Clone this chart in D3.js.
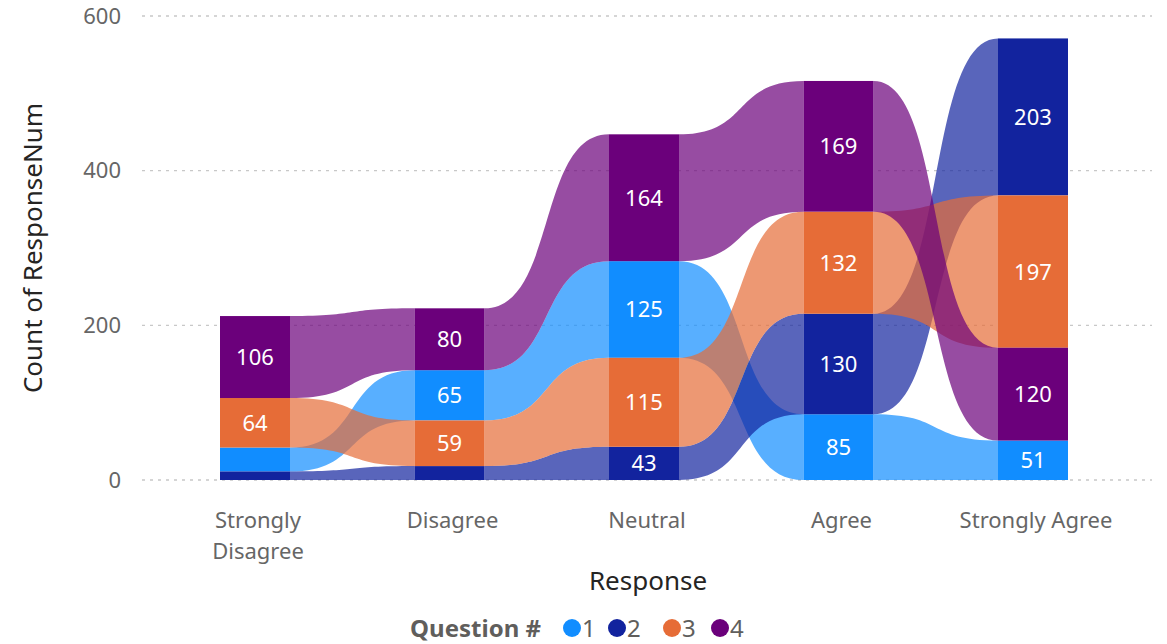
<!DOCTYPE html>
<html><head><meta charset="utf-8">
<script src="https://cdn.jsdelivr.net/npm/d3@7"></script>
<style>
html,body{margin:0;padding:0;background:#fff;}
svg{display:block;font-family:"Noto Sans","Open Sans",sans-serif;}
</style></head>
<body><svg id="c" width="1167" height="644"></svg>
<script>
const categories = ["Strongly Disagree","Disagree","Neutral","Agree","Strongly Agree"];
const seriesNames = ["1","2","3","4"];
const q1 = [31, 65, 125, 85, 51];
const q2 = [11, 18, 43, 130, 203];
const q3 = [64, 59, 115, 132, 197];
const q4 = [106, 80, 164, 169, 120];
const yTicks = [0, 200, 400, 600];
const colors = ["#118DFF","#12239E","#E66C37","#6B007B"];

const seriesValues = [q1,q2,q3,q4];
const svg = d3.select("#c");
const x = d3.scalePoint().domain(categories).range([255, 1033]);
const y = d3.scaleLinear().domain([0, 600]).range([480, 16]);
const barW = 70;

// gridlines
const grid = svg.append("g");
yTicks.forEach(t => {
  grid.append("line").attr("x1",142).attr("x2",1152).attr("y1",y(t)).attr("y2",y(t))
    .attr("stroke","#c8c8c8").attr("stroke-width",1.3).attr("stroke-dasharray","3,5");
});
// y axis labels
const yAxis = d3.axisLeft(y).tickValues(yTicks).tickSize(0).tickPadding(0);
const yg = svg.append("g").attr("transform","translate(121,0)").call(yAxis);
yg.select(".domain").remove();
yg.selectAll("text").attr("font-size",22).attr("fill","#666666").attr("font-family","'Noto Sans',sans-serif");

svg.append("text").attr("transform","translate(42,248) rotate(-90)").attr("text-anchor","middle")
  .attr("font-size",26).attr("fill","#252423").text("Count of ResponseNum");

// compute stacks: at each category, sort ascending by value
const stacks = categories.map((c, ci) => {
  const items = seriesValues.map((v, si) => ({si, v: v[ci]})).sort((a,b)=>a.v-b.v);
  let acc = 0;
  const res = {};
  items.forEach(it => { res[it.si] = {y0: acc, y1: acc + it.v, v: it.v}; acc += it.v; });
  return res;
});

// ribbons
const k = 0.58;
const rib = svg.append("g");
seriesValues.forEach((vals, si) => {
  for (let ci = 0; ci < categories.length - 1; ci++) {
    const a = stacks[ci][si], b = stacks[ci+1][si];
    const x0 = x(categories[ci]) + barW/2, x1 = x(categories[ci+1]) - barW/2;
    const dx = x1 - x0;
    const at = y(a.y1), ab = y(a.y0), bt = y(b.y1), bb = y(b.y0);
    const p = d3.path();
    p.moveTo(x0, at);
    p.bezierCurveTo(x0 + k*dx, at, x1 - k*dx, bt, x1, bt);
    p.lineTo(x1, bb);
    p.bezierCurveTo(x1 - k*dx, bb, x0 + k*dx, ab, x0, ab);
    p.closePath();
    rib.append("path").attr("d", p.toString()).attr("fill", colors[si]).attr("fill-opacity", 0.7);
  }
});

// bars
const bars = svg.append("g");
const labels = svg.append("g");
categories.forEach((c, ci) => {
  seriesValues.forEach((vals, si) => {
    const s = stacks[ci][si];
    const h = y(s.y0) - y(s.y1);
    bars.append("rect").attr("x", x(c) - barW/2).attr("width", barW)
      .attr("y", y(s.y1)).attr("height", h).attr("fill", colors[si]);
    if (h >= 28) {
      labels.append("text").attr("x", x(c)).attr("y", (y(s.y0)+y(s.y1))/2).attr("dy","0.36em")
        .attr("text-anchor","middle").attr("font-size",22).attr("fill","#ffffff").text(s.v);
    }
  });
});

// x axis labels
const xl = svg.append("g");
categories.forEach(c => {
  const lines = c === "Strongly Disagree" ? ["Strongly","Disagree"] : [c];
  lines.forEach((ln, i) => {
    xl.append("text").attr("x", x(c) + 3).attr("y", 528 + i*31).attr("text-anchor","middle")
      .attr("font-size",22).attr("fill","#666666").text(ln);
  });
});
svg.append("text").attr("x", 648).attr("y", 590).attr("text-anchor","middle")
  .attr("font-size",26).attr("fill","#252423").text("Response");

// legend
const lg = svg.append("g");
lg.append("text").attr("x", 541).attr("y", 637).attr("text-anchor","end")
  .attr("font-size",24).attr("font-weight","bold").attr("fill","#605E5C").text("Question #");
const lx = [572, 617, 672, 720];
seriesNames.forEach((n, i) => {
  lg.append("circle").attr("cx", lx[i]).attr("cy", 628).attr("r", 9).attr("fill", colors[i]);
  lg.append("text").attr("x", lx[i] + 10).attr("y", 637).attr("font-size",24).attr("fill","#605E5C").text(n);
});
</script></body></html>
